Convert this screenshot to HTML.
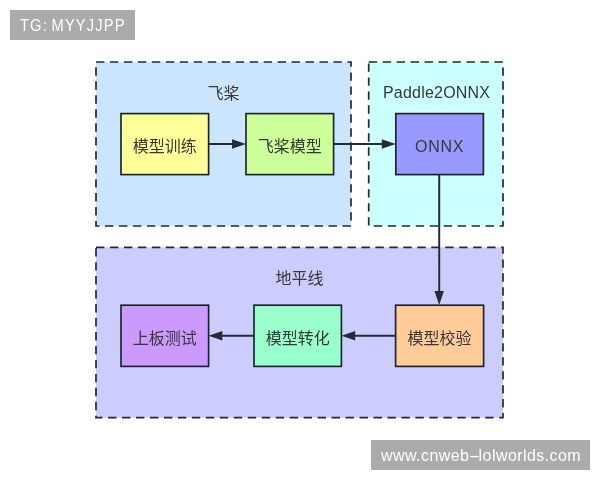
<!DOCTYPE html>
<html lang="zh-CN">
<head>
<meta charset="utf-8">
<title>Paddle2ONNX</title>
<style>
html,body{margin:0;padding:0;background:#fff;}
body{width:600px;height:480px;position:relative;overflow:hidden;font-family:"Liberation Sans","Noto Sans CJK SC",sans-serif;}
svg{position:absolute;left:0;top:0;display:block;will-change:transform;}
.wm{position:absolute;will-change:transform;background:#ababab;color:#fff;font-family:"Liberation Sans","Noto Sans CJK SC",sans-serif;white-space:nowrap;box-sizing:border-box;}
#wm1{left:10px;top:10px;width:125px;height:29.6px;line-height:31.2px;font-size:16.5px;padding-left:10.4px;}
#wm1 span{display:inline-block;transform-origin:0 50%;transform:scaleX(0.89);letter-spacing:1.28px;word-spacing:-1.8px;}
#wm2{left:371px;top:440.2px;width:218.8px;height:29.5px;line-height:31px;font-size:16px;letter-spacing:0.43px;padding-left:10px;}
#wm2 b{font-weight:normal;display:inline-block;transform:scaleX(2.05);margin:0 1.2px 0 2.3px;}
text{font-family:"Liberation Sans","Noto Sans CJK SC",sans-serif;font-size:16px;fill:#383838;text-anchor:middle;}
.grp{stroke:#222a32;stroke-width:1.7;stroke-dasharray:8.4 5.57;}
.box{stroke:#1c2226;stroke-width:1.65;}
.ln{stroke:#252d34;stroke-width:2;fill:none;}
.ah{fill:#252d34;stroke:none;}
</style>
</head>
<body>
<svg width="600" height="480" viewBox="0 0 600 480">
  <rect class="grp" x="96" y="62" width="255" height="164" fill="#cce5ff"/>
  <rect class="grp" x="368.7" y="62" width="134.3" height="164" fill="#ccffff"/>
  <rect class="grp" x="96" y="247.3" width="407" height="170.4" fill="#ccccff"/>

  <line class="ln" x1="208.6" y1="144" x2="236" y2="144"/>
  <polygon class="ah" points="232,139.3 246,144 232,148.7"/>
  <line class="ln" x1="333.6" y1="144" x2="386" y2="144"/>
  <polygon class="ah" points="381.8,139.3 395.8,144 381.8,148.7"/>
  <line class="ln" x1="439.2" y1="174.6" x2="439.2" y2="295"/>
  <polygon class="ah" points="434.5,291 439.2,305 443.9,291"/>
  <line class="ln" x1="395.6" y1="335.8" x2="351" y2="335.8"/>
  <polygon class="ah" points="355.2,331.1 341.4,335.8 355.2,340.5"/>
  <line class="ln" x1="254" y1="335.8" x2="218" y2="335.8"/>
  <polygon class="ah" points="222.4,331.1 208.6,335.8 222.4,340.5"/>

  <rect class="box" x="121" y="113.6" width="87.6" height="61" fill="#ffff99"/>
  <rect class="box" x="246" y="113.6" width="87.6" height="61" fill="#ccff99"/>
  <rect class="box" x="395.8" y="113.6" width="87.6" height="61" fill="#9999ff"/>
  <rect class="box" x="121" y="305.2" width="87.6" height="61.2" fill="#cc99ff"/>
  <rect class="box" x="254" y="305.2" width="87.4" height="61.2" fill="#99ffcc"/>
  <rect class="box" x="395.6" y="305.2" width="88" height="61.2" fill="#ffcc99"/>

  <text x="223.5" y="99">飞桨</text>
  <text x="383" y="98.3" textLength="107" style="text-anchor:start">Paddle2ONNX</text>
  <text x="299.5" y="284">地平线</text>
  <text x="164.8" y="152">模型训练</text>
  <text x="289.8" y="152">飞桨模型</text>
  <text x="415" y="152" textLength="48.5" style="text-anchor:start">ONNX</text>
  <text x="164.8" y="344.2">上板测试</text>
  <text x="297.7" y="344.2">模型转化</text>
  <text x="439.6" y="344.2">模型校验</text>
</svg>
<div class="wm" id="wm1"><span>TG: MYYJJPP</span></div>
<div class="wm" id="wm2">www.cnweb<b>-</b>lolworlds.com</div>
</body>
</html>
